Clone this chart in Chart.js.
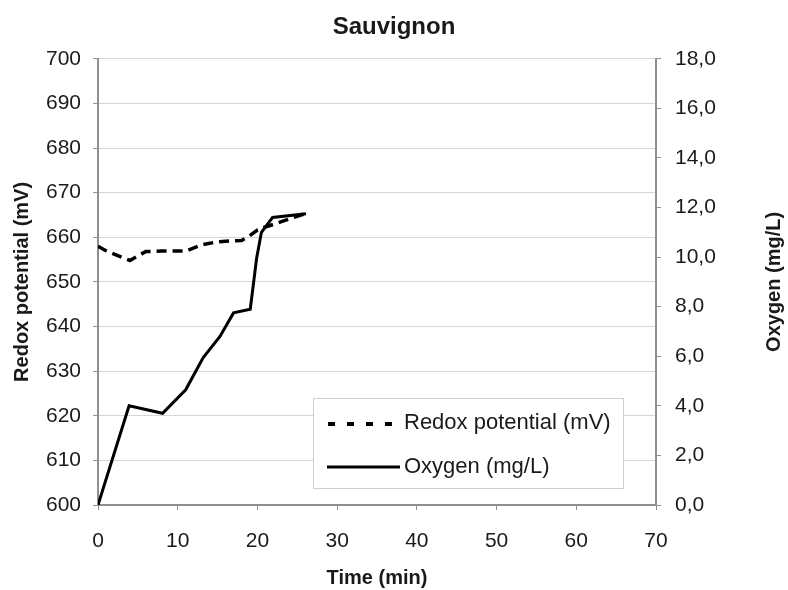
<!DOCTYPE html>
<html><head><meta charset="utf-8">
<script src="https://cdn.jsdelivr.net/npm/chart.js@4/dist/chart.umd.min.js"></script>
<style>html,body{margin:0;padding:0;background:#fff}</style>
</head><body>
<canvas id="c" width="788" height="590"></canvas>
<script>
const chartTitle = 'Sauvignon';
const xTitle = 'Time (min)';
const yLeftTitle = 'Redox potential (mV)';
const yRightTitle = 'Oxygen (mg/L)';
const seriesNames = ['Redox potential (mV)', 'Oxygen (mg/L)'];
const timeRedox = [0, 1, 3, 4, 6, 8, 11, 13, 15, 18, 19, 20, 21, 23, 26];
const redox = [658, 657, 655.5, 654.8, 656.8, 656.9, 656.9, 658.3, 659, 659.3, 660.3, 661.6, 662.3, 663.5, 665.3];
const timeO2 = [0, 3.9, 8.1, 11, 13.2, 15.3, 17, 19.1, 19.9, 20.5, 21.9, 26.1];
const oxygen = [0, 4.0, 3.7, 4.65, 5.95, 6.8, 7.75, 7.9, 9.95, 11.0, 11.6, 11.75];

const FONT = '"Liberation Sans", Arial, sans-serif';
const axisColor = '#8f8f8f';
const gridColor = '#d6d6d6';
const textColor = '#1a1a1a';

const overlay = {
  id: 'overlay',
  afterDraw(chart) {
    const ctx = chart.ctx;
    const ca = chart.chartArea;
    ctx.save();
    ctx.font = 'bold 20px ' + FONT;
    ctx.fillStyle = textColor;
    ctx.textAlign = 'center';
    ctx.textBaseline = 'middle';
    ctx.translate(774, (ca.top + ca.bottom) / 2);
    ctx.rotate(-Math.PI / 2);
    ctx.fillText(yRightTitle, 0, 0);
    ctx.restore();

    // legend box
    ctx.save();
    const bx = 313.5, by = 398.5, bw = 310, bh = 90;
    ctx.fillStyle = '#fff';
    ctx.fillRect(bx, by, bw, bh);
    ctx.strokeStyle = '#cfcfcf';
    ctx.lineWidth = 1;
    ctx.strokeRect(bx, by, bw, bh);
    ctx.strokeStyle = '#000';
    ctx.lineWidth = 4;
    ctx.setLineDash([7, 12]);
    ctx.beginPath(); ctx.moveTo(328, 424); ctx.lineTo(400, 424); ctx.stroke();
    ctx.setLineDash([]);
    ctx.lineWidth = 3;
    ctx.beginPath(); ctx.moveTo(327, 467); ctx.lineTo(400, 467); ctx.stroke();
    ctx.fillStyle = textColor;
    ctx.font = '22px ' + FONT;
    ctx.textAlign = 'left';
    ctx.textBaseline = 'middle';
    ctx.fillText(seriesNames[0], 404, 423);
    ctx.fillText(seriesNames[1], 404, 467);
    ctx.restore();
  }
};

new Chart(document.getElementById('c'), {
  type: 'line',
  data: {
    datasets: [
      {
        label: seriesNames[0],
        data: timeRedox.map((t, i) => ({x: t, y: redox[i]})),
        yAxisID: 'y',
        borderColor: '#000',
        borderWidth: 3.5,
        borderDash: [10, 6],
        pointRadius: 0,
        tension: 0,
        fill: false
      },
      {
        label: seriesNames[1],
        data: timeO2.map((t, i) => ({x: t, y: oxygen[i]})),
        yAxisID: 'y1',
        borderColor: '#000',
        borderWidth: 3,
        pointRadius: 0,
        tension: 0,
        fill: false
      }
    ]
  },
  options: {
    responsive: false,
    animation: false,
    devicePixelRatio: 1,
    layout: {padding: 0},
    plugins: {
      legend: {display: false},
      tooltip: {enabled: false},
      title: {
        display: true,
        text: chartTitle,
        color: textColor,
        font: {family: FONT, size: 24, weight: 'bold'},
        padding: {top: 13, bottom: 17}
      }
    },
    scales: {
      x: {
        type: 'linear',
        min: 0, max: 70,
        ticks: {stepSize: 10, color: textColor, font: {family: FONT, size: 21}, padding: 19, maxRotation: 0},
        grid: {drawOnChartArea: false, color: axisColor, tickLength: 5},
        border: {color: axisColor, width: 2},
        title: {display: true, text: xTitle, color: textColor, font: {family: FONT, size: 20, weight: 'bold'}, padding: {top: 0, bottom: 0}},
        afterFit: s => { s.height = 85; }
      },
      y: {
        position: 'left',
        min: 600, max: 700,
        ticks: {stepSize: 10, color: textColor, font: {family: FONT, size: 21}, padding: 12},
        grid: {color: gridColor, tickColor: axisColor, tickLength: 5},
        border: {color: axisColor, width: 2},
        title: {display: true, text: yLeftTitle, color: textColor, font: {family: FONT, size: 20, weight: 'bold'}, padding: {top: 10, bottom: 0}},
        afterFit: s => { s.width = 98; }
      },
      y1: {
        position: 'right',
        min: 0, max: 18,
        ticks: {stepSize: 2, color: textColor, font: {family: FONT, size: 21}, padding: 14,
          callback: v => v.toFixed(1).replace('.', ',')},
        grid: {drawOnChartArea: false, color: axisColor, tickLength: 5},
        border: {color: axisColor, width: 2},
        afterFit: s => { s.width = 132; }
      }
    }
  },
  plugins: [overlay]
});
</script>
</body></html>
